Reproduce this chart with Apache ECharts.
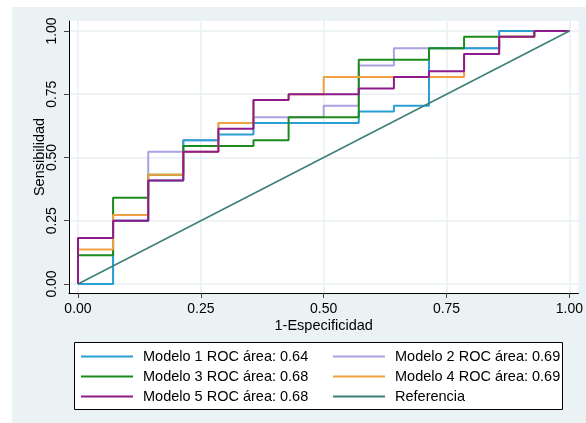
<!DOCTYPE html>
<html>
<head>
<meta charset="utf-8">
<script src="https://cdn.jsdelivr.net/npm/echarts@6/dist/echarts.min.js"></script>
<style>
  html, body { margin: 0; padding: 0; background: #ffffff; }
  #chart { width: 586px; height: 423px; }
</style>
</head>
<body>
<div id="chart"></div>
<script>
// 1-Especificidad: cut points of the ROC steps (14 negatives)
const fpr = [0, 0.0714, 0.1429, 0.2143, 0.2857, 0.3571, 0.4286, 0.5, 0.5714, 0.6429, 0.7143, 0.7857, 0.8571, 0.9286];

// Sensibilidad reached at each cut point, per model
const sensModelo1 = [0, 0.25, 0.4091, 0.5682, 0.5909, 0.6364, 0.6364, 0.6364, 0.6818, 0.7045, 0.9318, 0.9318, 1, 1];
const sensModelo2 = [0, 0.25, 0.5227, 0.5682, 0.6364, 0.6591, 0.6591, 0.7045, 0.8636, 0.9318, 0.9318, 0.9318, 1, 1];
const sensModelo3 = [0.1136, 0.3409, 0.4318, 0.5455, 0.5455, 0.5682, 0.6591, 0.6591, 0.8864, 0.8864, 0.9318, 0.9773, 0.9773, 1];
const sensModelo4 = [0.1364, 0.2727, 0.4318, 0.5227, 0.6364, 0.7273, 0.75, 0.8182, 0.8182, 0.8182, 0.8182, 0.9091, 0.9773, 1];
const sensModelo5 = [0.1818, 0.25, 0.4091, 0.5227, 0.6136, 0.7273, 0.75, 0.75, 0.7727, 0.8182, 0.8409, 0.9091, 0.9773, 1];

const seriesNames = [
  'Modelo 1 ROC área: 0.64',
  'Modelo 2 ROC área: 0.69',
  'Modelo 3 ROC área: 0.68',
  'Modelo 4 ROC área: 0.69',
  'Modelo 5 ROC área: 0.68',
  'Referencia'
];
const referencia = [[0, 0], [1, 1]];

const tickValues = [0, 0.25, 0.5, 0.75, 1];

const colors = ['#2a9fd4', '#aaa2e2', '#1c8a1c', '#f0a040', '#8e1a8c', '#3c7f79'];
// drawing order: lavender lowest, then blue, green, orange, purple
const layer = [3, 2, 4, 5, 6, 7];
const FONT = '"Liberation Sans", Arial, Helvetica, sans-serif';

// ROC polyline: starts at the origin, then one point per cut, ends at (1, 1)
function rocPoints(sens) {
  const pts = [[0, 0]];
  sens.forEach((s, i) => pts.push([fpr[i], s]));
  pts.push([1, 1]);
  return pts;
}

const curves = [sensModelo1, sensModelo2, sensModelo3, sensModelo4, sensModelo5];
const series = curves.map((sens, i) => ({
  name: seriesNames[i],
  type: 'line',
  step: 'end',
  data: rocPoints(sens),
  symbol: 'none',
  lineStyle: { width: 2, color: colors[i] },
  itemStyle: { color: colors[i] },
  animation: false,
  z: layer[i]
}));
series.push({
  name: seriesNames[5],
  type: 'line',
  data: referencia,
  symbol: 'none',
  lineStyle: { width: 1.5, color: colors[5] },
  itemStyle: { color: colors[5] },
  animation: false,
  z: layer[5]
});

const axisCommon = {
  type: 'value',
  nameLocation: 'middle',
  nameMoveOverlap: false,
  nameTextStyle: { fontFamily: FONT, fontSize: 14.5, color: '#000' },
  axisLine: { show: true, onZero: false, lineStyle: { color: '#000', width: 1 } },
  axisTick: { show: true, length: 5, customValues: tickValues, lineStyle: { color: '#444' } },
  axisLabel: {
    customValues: tickValues,
    formatter: v => v.toFixed(2),
    fontFamily: FONT, fontSize: 14, color: '#000'
  },
  splitLine: { show: true, lineStyle: { color: '#e8f0f2', width: 1.5 } }
};

const legendCommon = {
  orient: 'vertical', top: 349, padding: 0,
  icon: 'rect', itemWidth: 52, itemHeight: 2, itemGap: 5,
  textStyle: { fontFamily: FONT, fontSize: 14.5, color: '#000', padding: [0, 0, 0, 5] },
  selectedMode: false, z: 5
};

const chart = echarts.init(document.getElementById('chart'), null, { renderer: 'canvas' });
chart.setOption({
  backgroundColor: '#ffffff',
  animation: false,
  color: colors,
  graphic: [
    { type: 'rect', z: -10, silent: true, shape: { x: 12, y: 7, width: 574, height: 416 }, style: { fill: '#eaf2f3' } },
    { type: 'rect', z: 1, silent: true, shape: { x: 74.5, y: 342.5, width: 488, height: 67 }, style: { fill: '#ffffff', stroke: '#000', lineWidth: 1 } }
  ],
  grid: {
    left: 69, right: 7, top: 21, bottom: 130,
    show: true, backgroundColor: '#ffffff', borderWidth: 0
  },
  xAxis: Object.assign({}, axisCommon, {
    name: '1-Especificidad',
    nameGap: 25,
    min: -0.0183, max: 1.0183,
    axisLabel: Object.assign({}, axisCommon.axisLabel, { margin: 9 })
  }),
  yAxis: Object.assign({}, axisCommon, {
    name: 'Sensibilidad',
    nameGap: 22,
    min: -0.0356, max: 1.0395,
    axisLabel: Object.assign({}, axisCommon.axisLabel, { rotate: 90, margin: 10 })
  }),
  legend: [
    Object.assign({}, legendCommon, { data: [seriesNames[0], seriesNames[2], seriesNames[4]], left: 81 }),
    Object.assign({}, legendCommon, { data: [seriesNames[1], seriesNames[3], seriesNames[5]], left: 333 })
  ],
  series: series
});
</script>
</body>
</html>
